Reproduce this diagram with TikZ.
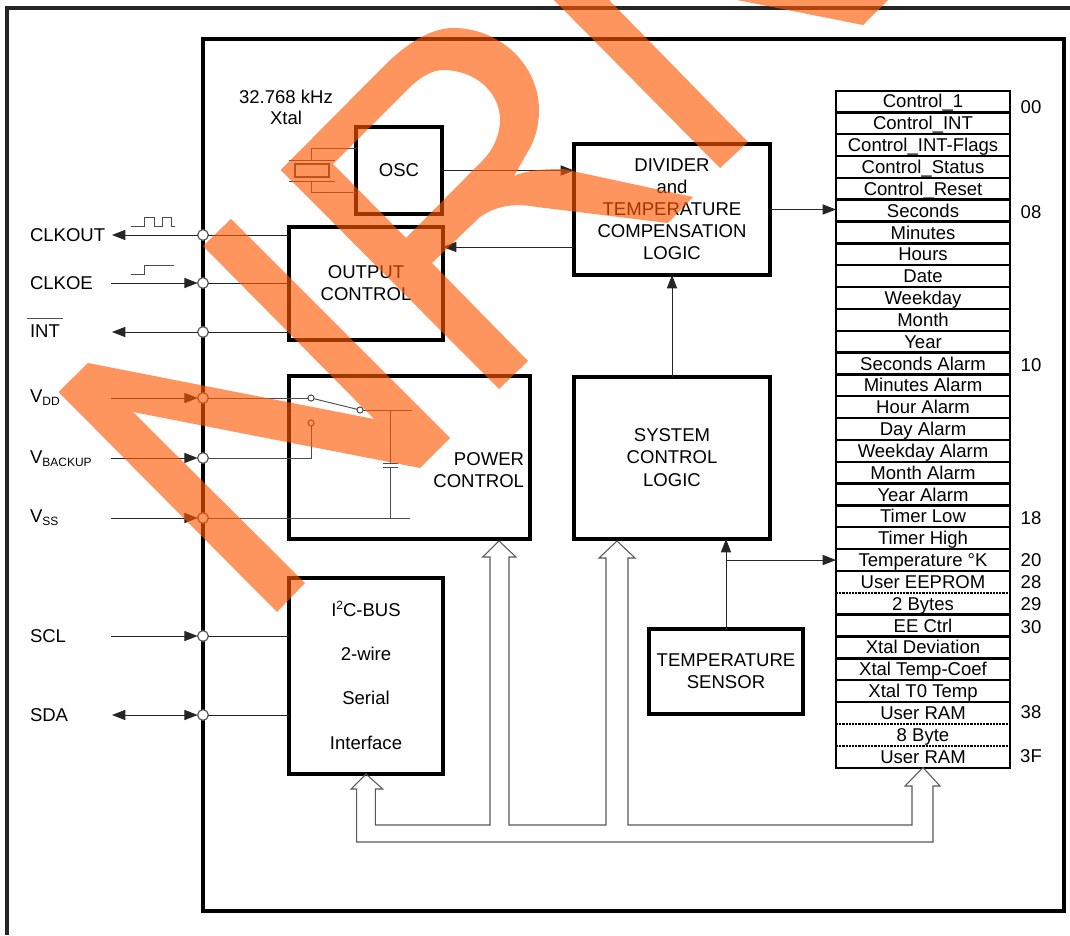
\documentclass[tikz,border=0pt]{standalone}
\usepackage{fontspec}
\setmainfont{Liberation Sans}
\usetikzlibrary{arrows.meta}
\tikzset{
  px/.style={x=0.75pt,y=-0.75pt},
  lbl/.style={inner sep=0pt,outer sep=0pt,text height=9.9pt,text depth=0pt,font=\fontsize{13.9pt}{16.5pt}\selectfont},
  box/.style 2 args={draw=black,line width=2.3pt,inner sep=0pt,outer sep=0pt,align=center,minimum width=#1*0.75pt,minimum height=#2*0.75pt,font=\fontsize{13.9pt}{16.6pt}\selectfont},
  pin/.style={circle,draw=black!65,line width=0.9pt,fill=white,inner sep=0pt,outer sep=0pt,minimum size=8pt},
  swc/.style={circle,draw=black!75,line width=0.7pt,fill=white,inner sep=0pt,outer sep=0pt,minimum size=4.6pt},
  wire/.style={line width=0.75pt,draw=black!85},
  arr/.style={wire,-{Triangle[length=10pt,width=7.6pt]}},
  darr/.style={wire,{Triangle[length=10pt,width=7.6pt]}-{Triangle[length=10pt,width=7.6pt]}},
  thinw/.style={line width=0.7pt,draw=black!70},
  frameline/.style={draw=black,line width=3.2pt},
  reg/.style={inner sep=0pt,outer sep=0pt,minimum width=174*0.75pt,minimum height=21.84*0.75pt,text height=9.9pt,text depth=0pt,font=\fontsize{13.9pt}{16pt}\selectfont},
  addr/.style={lbl},
  wm/.style={fill={rgb,255:red,254;green,87;blue,0},fill opacity=0.63,even odd rule},
  bus/.style={draw=black!65,line width=0.8pt,line join=miter}
}
\newcommand{\vsub}[1]{V{\fontsize{9pt}{9pt}\selectfont\raisebox{-2.5pt}{#1}}}
\newcommand{\upa}[1]{\raisebox{0.75pt}{#1}}
\newcommand{\upb}[1]{\raisebox{1.5pt}{#1}}
\begin{document}
\begin{tikzpicture}[px]
\useasboundingbox (0,0) rectangle (1070,935);
\fill[white] (0,0) rectangle (1070,935);
% frames
\coordinate (fa) at (7,935); \coordinate (fb) at (7,8); \coordinate (fc) at (1070,8);
\draw[draw=black!85,line width=2.3pt] (fa) -- (fb) -- (fc);
\draw[frameline] (203,39) rectangle (1064,911);
% blocks
\node[box={86}{87}] (osc) at (399,170.5) {OSC};
\node[box={154}{113}] (out) at (366,283.5) {\upa{OUTPUT}\\\upa{CONTROL}};
\node[box={241}{163}] (pwr) at (409.5,457.5) {};
\node[lbl,anchor=east] (pwrA) at (524,459) {POWER};
\node[lbl,anchor=east] (pwrB) at (524,481) {CONTROL};
\node[box={154}{196},font=\fontsize{13.9pt}{33pt}\selectfont] (iic) at (366,676) {\upb{I\raisebox{5pt}{\fontsize{9pt}{9pt}\selectfont 2}C-BUS}\\\upb{2-wire}\\\upb{Serial}\\\upa{Interface}};
\node[box={196}{131}] (div) at (672,209.5) {\upa{DIVIDER}\\\upa{and}\\\upa{TEMPERATURE}\\\upa{COMPENSATION}\\\upa{LOGIC}};
\node[box={196}{162}] (sys) at (672,458) {\upa{SYSTEM}\\\upa{CONTROL}\\\upa{LOGIC}};
\node[box={154}{85}] (tmp) at (726,671.5) {TEMPERATURE\\SENSOR};
% registers
\foreach \t [count=\i from 0] in {Control\_1,Control\_INT,Control\_INT-Flags,Control\_Status,Control\_Reset,Seconds,Minutes,Hours,Date,Weekday,Month,Year,Seconds Alarm,Minutes Alarm,Hour Alarm,Day Alarm,Weekday Alarm,Month Alarm,Year Alarm,Timer Low,Timer High,Temperature °K,User EEPROM,2 Bytes,EE Ctrl,Xtal Deviation,Xtal Temp-Coef,Xtal T0 Temp,User RAM,8 Byte,User RAM}{
  \pgfmathsetmacro{\yy}{91+21.84*(\i+0.5)}
  \node[reg,yshift=0.4pt] (r\i) at (923,\yy) {\t};
}
\foreach \i in {0,...,21,23,24,25,26,27}{
  \draw[line width=1.8pt,draw=black,yshift=-0.4pt] (r\i.south west) -- (r\i.south east);
}
\foreach \i in {22,28,29}{
  \draw[line width=1.6pt,draw=black,dash pattern=on 1.6pt off 0.8pt,yshift=-0.4pt] (r\i.south west) -- (r\i.south east);
}
\draw[line width=2.1pt,draw=black] ([yshift=-0.4pt]r0.north west) rectangle ([yshift=-0.4pt]r30.south east);
% addresses
\foreach \t/\y in {00/107,08/212,10/365,18/518,20/560,28/582,29/604,30/627,38/712,3F/756}{
  \node[addr] (a\t) at (1031,\y) {\t};
}
% pins
\foreach \n/\y in {clkout/235,clkoe/283,int/332,vdd/398,vbk/458,vss/518,scl/636,sda/715}{
  \node[pin] (p\n) at (203,\y) {};
}
% left labels
\node[lbl,anchor=west] (lclkout) at (30,235) {CLKOUT};
\node[lbl,anchor=west] (lclkoe) at (30,283) {CLKOE};
\node[lbl,anchor=west] (lint) at (30,331) {INT};
\coordinate (ba) at (27,318); \coordinate (bb) at (63,318);
\draw[thinw] (ba) -- (bb);
\node[lbl,anchor=west] (lvdd) at (30,396) {\vsub{DD}};
\node[lbl,anchor=west] (lvbk) at (30,457) {\vsub{BACKUP}};
\node[lbl,anchor=west] (lvss) at (30,516) {\vsub{SS}};
\node[lbl,anchor=west] (lscl) at (30,636) {SCL};
\node[lbl,anchor=west] (lsda) at (30,715) {SDA};
% free ends
\coordinate (eout) at (112,235);
\coordinate (eoe) at (110.5,283);
\coordinate (eint) at (112,332);
\coordinate (evdd) at (110.5,398);
\coordinate (evbk) at (110.5,458);
\coordinate (evss) at (110.5,518);
\coordinate (escl) at (110.5,636);
\coordinate (esda) at (112,715);
% pin connectors
\draw[arr] (pclkout.west) -- (eout);
\draw[wire] (pclkout.east) -- (out.west |- pclkout);
\draw[arr] (eoe) -- (pclkoe.west);
\draw[wire] (pclkoe.east) -- (out.west |- pclkoe);
\draw[arr] (pint.west) -- (eint);
\draw[wire] (pint.east) -- (out.west |- pint);
\draw[arr] (evdd) -- (pvdd.west);
\draw[arr] (evbk) -- (pvbk.west);
\draw[arr] (evss) -- (pvss.west);
\draw[arr] (escl) -- (pscl.west);
\draw[wire] (pscl.east) -- (iic.west |- pscl);
\draw[darr] (esda) -- (psda.west);
\draw[wire] (psda.east) -- (iic.west |- psda);
% power switch
\node[swc] (s1) at (311,398) {};
\node[swc] (s2) at (360,410) {};
\node[swc] (s3) at (311,423) {};
\coordinate (railT) at (412,410);
\coordinate (railB) at (410,518);
\coordinate (capT) at (390.5,463.5);
\coordinate (capB) at (390.5,467);
\draw[thinw] (pvdd.east) -- (s1.west);
\draw[thinw] (s1) -- (s2);
\draw[thinw] (s2.east) -- (railT);
\draw[thinw] (pvbk.east) -- (s3 |- pvbk) -- (s3.south);
\draw[thinw] (pvss.east) -- (railB);
\draw[thinw] (capT |- railT) -- (capT);
\draw[thinw] (capB) -- (capB |- railB);
\draw[thinw] ([xshift=-5.6pt]capT) -- ([xshift=5.6pt]capT);
\draw[thinw] ([xshift=-5.6pt]capB) -- ([xshift=5.6pt]capB);
% xtal
\coordinate (xt) at (311.6,160.5);
\coordinate (xb) at (311.6,181);
\coordinate (xtc) at (311.6,148.3);
\coordinate (xbc) at (311.6,192.3);
\draw[thinw] (xt) -- (xtc) -- (osc.west |- xtc);
\draw[thinw] (xb) -- (xbc) -- (osc.west |- xbc);
\draw[thinw] (289,160.5) -- (335,160.5);
\draw[thinw] (289,181) -- (335,181);
\draw[thinw,line width=0.9pt] (295,164) rectangle (329,177);
\node[lbl] (xtA) at (286,97) {32.768 kHz};
\node[lbl] (xtB) at (286,118) {Xtal};
% square waves
\draw[thinw] (131,226) -- (144,226) -- (144,217) -- (154,217) -- (154,226) -- (162,226) -- (162,217) -- (171,217) -- (171,226) -- (175,226);
\draw[thinw] (131,274) -- (144.6,274) -- (144.6,265) -- (174,265);
% block connectors
\coordinate (dy) at (0,247);
\draw[arr] (osc.east) -- (div.west |- osc.east);
\draw[arr] (div.west |- dy) -- (out.east |- dy);
\draw[arr] (div.east) -- (r5.west |- div.east);
\draw[arr] (sys.north) -- (div.south);
\draw[arr] (tmp.north) -- (tmp.north |- sys.south);
\draw[arr] (tmp.north |- r21.west) -- (r21.west);
% bus
\draw[bus] (356.7,842) -- (356.7,789) -- (351,789) -- (iic.south) -- (382.7,789) -- (375.3,789) -- (375.3,825)
  -- (490,825) -- (490,557) -- (482.7,557) -- (499,541) -- (516,557) -- (509,557) -- (509,825)
  -- (606,825) -- (606,558) -- (599,558) -- (617,541) -- (635,558) -- (628,558) -- (628,825)
  -- (912,825) -- (912,786) -- (905,786) -- (r30.south) -- (940,786) -- (933,786) -- (933,842) -- cycle;
% watermark
\fill[wm] (231,219) -- (450,438) -- (420,468) -- (133,412) -- (305,583) -- (277,612) -- (58.5,392) -- (88,363) -- (374,419) -- (203,246) -- cycle;
\fill[wm] (280.7,170) -- (385,65) .. controls (405,45) and (430,28) .. (453,28) .. controls (500,28) and (539,65) .. (539,110) .. controls (539,128) and (534,142) .. (527,153) -- (514,176) .. controls (525,171) and (540,169) .. (563,169) -- (693,197) -- (668,223) -- (537,207) .. controls (520,204) and (500,203) .. (480,217) -- (432,263) -- (528,361) -- (499,389) -- cycle
  (333,164) -- (407,90) .. controls (420,77) and (432,70) .. (443,70) .. controls (475,70) and (500,92) .. (500,120) .. controls (500,135) and (493,150) .. (483,160) -- (406,238) -- cycle;
\fill[wm] (552,-2) -- (720,168) -- (748,142) -- (607,-2) -- cycle;
\fill[wm] (737,0) -- (863,25) -- (888,0) -- cycle;
\end{tikzpicture}
\end{document}
